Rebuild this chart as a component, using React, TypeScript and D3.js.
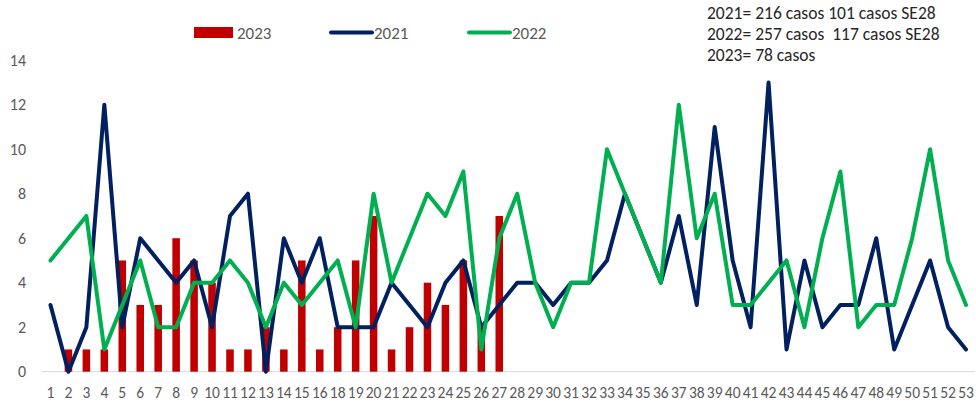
import { useEffect, useRef } from 'react';
import * as d3 from 'd3';

// epidemiological weeks (week 17 is missing in the source chart)
const weeks = [
  '1', '2', '3', '4', '5', '6', '7', '8', '9', '10', '11', '12', '13', '14', '15', '16',
  '18', '19', '20', '21', '22', '23', '24', '25', '26', '27', '28', '29', '30', '31', '32',
  '33', '34', '35', '36', '37', '38', '39', '40', '41', '42', '43', '44', '45', '46', '47',
  '48', '49', '50', '51', '52', '53',
];

const cases2021 = [
  3, 0, 2, 12, 2, 6, 5, 4, 5, 2, 7, 8, 0, 6, 4, 6, 2, 2, 2, 4, 3, 2, 4, 5, 2, 3,
  4, 4, 3, 4, 4, 5, 8, 6, 4, 7, 3, 11, 5, 2, 13, 1, 5, 2, 3, 3, 6, 1, 3, 5, 2, 1,
];

const cases2022 = [
  5, 6, 7, 1, 3, 5, 2, 2, 4, 4, 5, 4, 2, 4, 3, 4, 5, 2, 8, 4, 6, 8, 7, 9, 1, 6,
  8, 4, 2, 4, 4, 10, 8, 6, 4, 12, 6, 8, 3, 3, 4, 5, 2, 6, 9, 2, 3, 3, 6, 10, 5, 3,
];

// 2023 only reported up to week 27
const cases2023 = [
  0, 1, 1, 1, 5, 3, 3, 6, 5, 4, 1, 1, 2, 1, 5, 1, 2, 5, 7, 1, 2, 4, 3, 5, 2, 7,
];

const yTicks = [0, 2, 4, 6, 8, 10, 12, 14];

const notes = [
  '2021= 216 casos 101 casos SE28',
  '2022= 257 casos  117 casos SE28',
  '2023= 78 casos',
];

const W = 976;
const H = 403;

export default function App() {
  const ref = useRef<SVGSVGElement>(null);

  useEffect(() => {
    const svg = d3.select(ref.current);
    svg.selectAll('*').remove();

    const x = d3.scaleBand<string>().domain(weeks).range([41.5, 975]).padding(0);
    const y = d3.scaleLinear().domain([0, 14]).range([371.7, 60.2]);
    const cx = (i: number) => (x(weeks[i]) as number) + x.bandwidth() / 2;
    const font = 'Carlito, Calibri, "Liberation Sans", Arial, sans-serif';

    // y tick labels
    svg
      .append('g')
      .selectAll('text')
      .data(yTicks)
      .join('text')
      .attr('x', 26)
      .attr('y', (d) => y(d) + 5.5)
      .attr('text-anchor', 'end')
      .attr('fill', '#595959')
      .style('font', `16px ${font}`)
      .text((d) => d);

    // x tick labels
    svg
      .append('g')
      .selectAll('text')
      .data(weeks)
      .join('text')
      .attr('x', (_d, i) => cx(i))
      .attr('y', 398)
      .attr('text-anchor', 'middle')
      .attr('fill', '#595959')
      .style('font', `15.5px ${font}`)
      .text((d) => d);

    // baseline
    svg
      .append('line')
      .attr('x1', 41.5)
      .attr('x2', 975)
      .attr('y1', y(0))
      .attr('y2', y(0))
      .attr('stroke', '#d9d9d9')
      .attr('stroke-width', 1);

    // 2023 bars
    const bw = x.bandwidth() * 0.42;
    svg
      .append('g')
      .selectAll('rect')
      .data(cases2023)
      .join('rect')
      .attr('x', (_d, i) => cx(i) - bw / 2)
      .attr('y', (d) => y(d))
      .attr('width', bw)
      .attr('height', (d) => y(0) - y(d))
      .attr('fill', '#c00000');

    const line = d3
      .line<number>()
      .x((_d, i) => cx(i))
      .y((d) => y(d));

    svg
      .append('path')
      .datum(cases2021)
      .attr('d', line)
      .attr('fill', 'none')
      .attr('stroke', '#002060')
      .attr('stroke-width', 4)
      .attr('stroke-linejoin', 'round')
      .attr('stroke-linecap', 'round');

    svg
      .append('path')
      .datum(cases2022)
      .attr('d', line)
      .attr('fill', 'none')
      .attr('stroke', '#00b050')
      .attr('stroke-width', 4)
      .attr('stroke-linejoin', 'round')
      .attr('stroke-linecap', 'round');

    // legend
    const legend = svg.append('g').style('font', `17px ${font}`).attr('fill', '#595959');
    legend.append('rect').attr('x', 194).attr('y', 27).attr('width', 39).attr('height', 11).attr('fill', '#c00000');
    legend.append('text').attr('x', 237).attr('y', 39).text('2023');
    legend
      .append('line')
      .attr('x1', 331).attr('x2', 372).attr('y1', 32.5).attr('y2', 32.5)
      .attr('stroke', '#002060').attr('stroke-width', 4).attr('stroke-linecap', 'round');
    legend.append('text').attr('x', 374).attr('y', 39).text('2021');
    legend
      .append('line')
      .attr('x1', 469).attr('x2', 510).attr('y1', 32.5).attr('y2', 32.5)
      .attr('stroke', '#00b050').attr('stroke-width', 4).attr('stroke-linecap', 'round');
    legend.append('text').attr('x', 512).attr('y', 39).text('2022');

    // annotation (keeps the double space of the original)
    svg
      .append('g')
      .selectAll('text')
      .data(notes)
      .join('text')
      .attr('x', 707)
      .attr('y', (_d, i) => 19 + i * 21)
      .attr('fill', '#262626')
      .style('font', `17.5px ${font}`)
      .style('white-space', 'pre')
      .text((d) => d);
  }, []);

  return (
    <div style={{ position: 'absolute', left: 0, top: 0 }}>
      <svg ref={ref} width={W} height={H} style={{ display: 'block', background: '#fff' }} />
    </div>
  );
}
